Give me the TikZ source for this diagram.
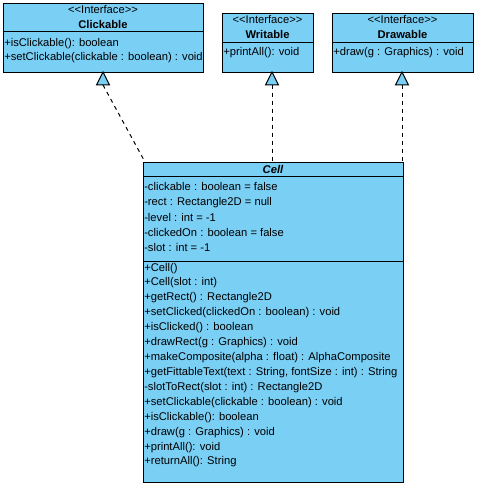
\documentclass[tikz,border=0pt]{standalone}
\usepackage{fontspec}
\setmainfont{Liberation Sans}
\usetikzlibrary{positioning,calc}
\definecolor{umlblue}{RGB}{122,207,245}
\newcommand{\stereotype}[1]{<{}<#1>{}>}
\tikzset{
    classbox/.style={draw, fill=umlblue, line width=0.75pt, inner sep=0pt, anchor=north west},
    member/.style={anchor=base west, inner sep=0pt, yshift=-3pt, font=\fontsize{8.4}{10}\selectfont},
    stereo/.style={anchor=base, inner sep=0pt, yshift=-3pt, font=\fontsize{8.4}{10}\selectfont},
    classname/.style={anchor=base, inner sep=0pt, yshift=-3pt, font=\fontsize{8.4}{10}\selectfont\bfseries},
    realize/.style={line width=0.75pt, dash pattern=on 3pt off 3pt},
    arrowhead/.style={draw, fill=umlblue, line width=0.75pt, line join=miter}
}

\begin{document}
\begin{tikzpicture}[x=0.75pt, y=-0.75pt]
    \useasboundingbox[fill=white] (0,0) rectangle (477,491);

    % Interfaces
    \node [classbox, minimum width=150pt, minimum height=51.75pt] (clickable) at (3,3) {};
    \node [classbox, minimum width=68.25pt, minimum height=44.25pt] (writable) at (222,13) {};
    \node [classbox, minimum width=105.75pt, minimum height=44.25pt] (drawable) at (332,13) {};
    \draw [line width=0.75pt] (3,32) -- (203,32);
    \draw [line width=0.75pt] (222,43) -- (313,43);
    \draw [line width=0.75pt] (332,43) -- (473,43);

    \node [stereo] at (103,10) {\stereotype{Interface}};
    \node [classname] at (103,25) {Clickable};
    \node [stereo] at (267.5,20) {\stereotype{Interface}};
    \node [classname] at (267.5,35) {Writable};
    \node [stereo] at (402.5,20) {\stereotype{Interface}};
    \node [classname] at (402.5,35) {Drawable};

    \node [member] at (4,43) {+isClickable(): boolean};
    \node [member] at (4,57) {+setClickable(clickable : boolean) : void};
    \node [member] at (223,52) {+printAll(): void};
    \node [member] at (333,52) {+draw(g : Graphics) : void};

    % Class
    \node [classbox, minimum width=195pt, minimum height=240pt] (cell) at (143,162) {};
    \draw [line width=0.75pt] (143,177) -- (403,177);
    \draw [line width=0.75pt] (143,261) -- (403,261);
    \node [classname, font=\fontsize{8.4}{10}\selectfont\bfseries\itshape] at (273,170) {Cell};

    \foreach \txt [count=\i from 0] in {
        -clickable : boolean = false, -rect : Rectangle2D = null,
        -level : int = -1, -clickedOn : boolean = false, -slot : int = -1} {
        \node [member] at (144,{187+15*\i}) {\txt};
    }

    \foreach \txt [count=\i from 0] in {
        +Cell(), +Cell(slot : int), +getRect() : Rectangle2D,
        +setClicked(clickedOn : boolean) : void, +isClicked() : boolean,
        +drawRect(g : Graphics) : void,
        +makeComposite(alpha : float) : AlphaComposite,
        {+getFittableText(text : String, fontSize : int) : String},
        -slotToRect(slot : int) : Rectangle2D,
        +setClickable(clickable : boolean) : void,
        +isClickable(): boolean, +draw(g : Graphics) : void,
        +printAll(): void, +returnAll(): String} {
        \node [member] at (144,{267+14.92*\i}) {\txt};
    }

    % Realizations
    \foreach \x/\name in {103/clkbase, 272/wrtbase, 402/drwbase} {
        \draw [arrowhead] (\x,72) -- ++(-6.5,13) -- ++(13,0) -- cycle;
        \coordinate (\name) at (\x,85);
    }
    \draw [realize] (clkbase) -- ($(cell.north west)+(2,0)$);
    \draw [realize] (wrtbase) -- (wrtbase |- cell.north);
    \draw [realize] (drwbase) -- (drwbase |- cell.north);
\end{tikzpicture}
\end{document}
